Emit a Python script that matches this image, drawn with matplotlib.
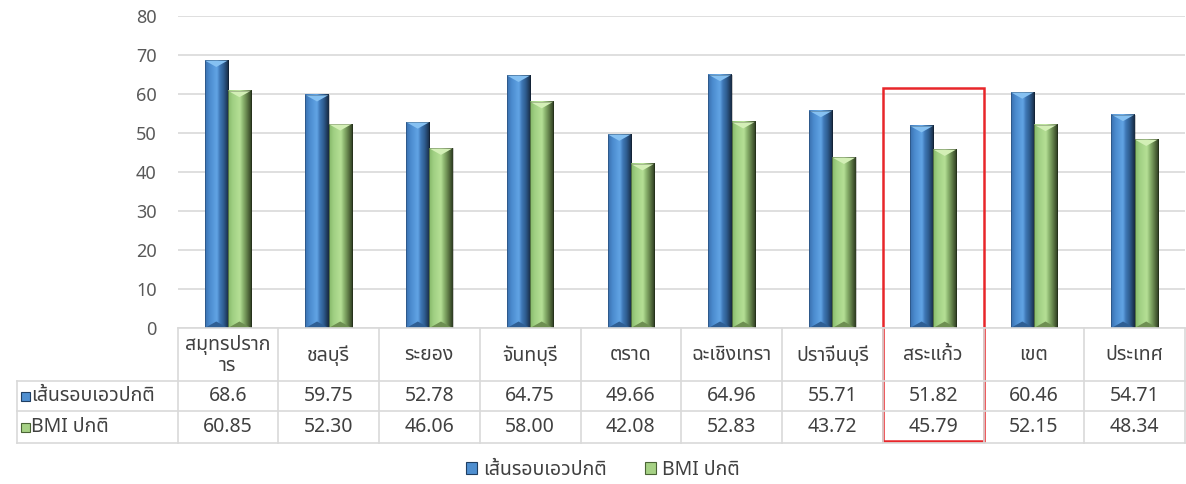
import matplotlib
matplotlib.use("Agg")
import matplotlib.pyplot as plt
import numpy as np
from matplotlib import font_manager
from matplotlib.ft2font import FT2Font
from matplotlib.patches import Polygon, Rectangle, Patch
from matplotlib.colors import LinearSegmentedColormap

# ---- data ----
provinces = ["สมุทรปราก\nาร", "ชลบุรี", "ระยอง", "จันทบุรี", "ตราด",
             "ฉะเชิงเทรา", "ปราจีนบุรี", "สระแก้ว", "เขต", "ประเทศ"]
waist_normal = [68.6, 59.75, 52.78, 64.75, 49.66, 64.96, 55.71, 51.82, 60.46, 54.71]
bmi_normal = [60.85, 52.30, 46.06, 58.00, 42.08, 52.83, 43.72, 45.79, 52.15, 48.34]
series_names = ["เส้นรอบเอวปกติ", "BMI ปกติ"]
highlight_index = 7
y_ticks = [0, 10, 20, 30, 40, 50, 60, 70, 80]


def find_thai_family():
    preferred = ["Noto Sans Thai", "Noto Sans Thai UI", "Leelawadee UI", "Tahoma",
                 "Loma", "Garuda", "Sarabun", "Waree", "Umpush", "Kinnari",
                 "Norasi", "Noto Serif Thai"]
    found = {}
    for fe in font_manager.fontManager.ttflist:
        try:
            cmap = FT2Font(fe.fname).get_charmap()
        except Exception:
            continue
        if 0x0E2A in cmap and 0x0E49 in cmap:
            found.setdefault(fe.name, fe)
    for p in preferred:
        if p in found:
            return p
    if found:
        return sorted(found)[0]
    return None


thai = find_thai_family()
families = ([thai] if thai else []) + ["DejaVu Sans"]
plt.rcParams["font.family"] = families

W, H = 1186, 484
fig = plt.figure(figsize=(W / 100, H / 100), dpi=100)
fig.patch.set_facecolor("white")

ax_left, ax_right, ax_top, ax_bottom = 177.5, 1185, 16, 328
ax = fig.add_axes([ax_left / W, (H - ax_bottom) / H,
                   (ax_right - ax_left) / W, (ax_bottom - ax_top) / H])
ax.set_facecolor("none")

n = len(provinces)
x = np.arange(n)
bw = 0.23
ax.set_xlim(-0.5, n - 0.5)
ax.set_ylim(0, 80)
ax.set_yticks(y_ticks)
ax.set_xticks([])
ax.tick_params(axis="y", length=0, pad=15, labelsize=13, labelcolor="#595959")
ax.yaxis.grid(True, color="#d9d9d9", linewidth=1.2)
ax.set_axisbelow(True)
for s in ax.spines.values():
    s.set_visible(False)

blue_cmap = LinearSegmentedColormap.from_list(
    "blue_bevel",
    [(0.0, "#3a70ae"), (0.18, "#4a8acd"), (0.5, "#62a5e6"),
     (0.62, "#3f78b6"), (0.8, "#2d5a8c"), (1.0, "#17293f")])
green_cmap = LinearSegmentedColormap.from_list(
    "green_bevel",
    [(0.0, "#86b86a"), (0.18, "#9fcf82"), (0.5, "#b6e096"),
     (0.62, "#8fb872"), (0.8, "#627f49"), (1.0, "#2c3a20")])

blue_bars = ax.bar(x - bw / 2, waist_normal, bw, color="#4f8fd0", zorder=2)
green_bars = ax.bar(x + bw / 2, bmi_normal, bw, color="#a6d185", zorder=2)

px_per_unit = (ax_bottom - ax_top) / 80.0
tip = 6.5 / px_per_unit
grad = np.linspace(0, 1, 64).reshape(1, -1)


def bevel(bars, cmap, top_col, bottom_col):
    for r in bars:
        x0, w, h = r.get_x(), r.get_width(), r.get_height()
        ax.imshow(grad, cmap=cmap, extent=(x0, x0 + w, 0, h), aspect="auto",
                  interpolation="bicubic", zorder=3)
        ax.add_patch(Polygon([(x0, h), (x0 + w, h), (x0 + w / 2, h - tip)],
                             closed=True, facecolor=top_col, edgecolor="none", zorder=4))
        ax.add_patch(Polygon([(x0, 0), (x0 + w, 0), (x0 + w / 2, tip)],
                             closed=True, facecolor=bottom_col, edgecolor="none", zorder=4))
        ax.add_patch(Rectangle((x0, 0), w, h, facecolor="none",
                               edgecolor=(0, 0, 0, 0.25), linewidth=0.6, zorder=5))


bevel(blue_bars, blue_cmap, "#86c1f2", "#2f5f94")
bevel(green_bars, green_cmap, "#d3efb6", "#6e8f52")
ax.set_xlim(-0.5, n - 0.5)
ax.set_ylim(0, 80)

# ---- data table under the chart (pixel coordinates) ----
tab = fig.add_axes([0, 0, 1, 1], zorder=5)
tab.set_xlim(0, W)
tab.set_ylim(H, 0)
tab.axis("off")


def col_edge(v):
    return ax.transData.transform((v, 0))[0]


edges = [col_edge(i - 0.5) for i in range(n + 1)]
y_head, y_r1, y_r2, y_end = 328, 381, 411, 443
label_left = 17
line_kw = dict(color="#d9d9d9", linewidth=1.2)

for e in edges:
    tab.plot([e, e], [y_head, y_end], **line_kw)
tab.plot([label_left, label_left], [y_r1, y_end], **line_kw)
tab.plot([edges[0], edges[-1]], [y_head, y_head], **line_kw)
for yy in (y_r1, y_r2, y_end):
    tab.plot([label_left, edges[-1]], [yy, yy], **line_kw)

text_col = "#404040"
fs = 14
for i, name in enumerate(provinces):
    cx = (edges[i] + edges[i + 1]) / 2
    tab.text(cx, (y_head + y_r1) / 2 + 1, name, ha="center", va="center",
             fontsize=fs, color=text_col, linespacing=1.1)
    tab.text(cx, (y_r1 + y_r2) / 2, f"{waist_normal[i]:g}", ha="center",
             va="center", fontsize=fs, color=text_col)
    tab.text(cx, (y_r2 + y_end) / 2, f"{bmi_normal[i]:.2f}", ha="center",
             va="center", fontsize=fs, color=text_col)

key_cols = [("#4f8fd0", "#1f3f63"), ("#a6d185", "#4a6435")]
for (fc, ec), name, (ya, yb) in zip(key_cols, series_names,
                                    [(y_r1, y_r2), (y_r2, y_end)]):
    cy = (ya + yb) / 2
    tab.add_patch(Rectangle((21, cy - 4.5), 9, 9, facecolor=fc, edgecolor=ec,
                            linewidth=0.8))
    tab.text(31, cy, name, ha="left", va="center", fontsize=fs, color=text_col)

# highlighted province
tab.add_patch(Rectangle((edges[highlight_index], 88),
                        edges[highlight_index + 1] - edges[highlight_index],
                        441 - 88, facecolor="none", edgecolor="#e8262a",
                        linewidth=1.8))

# ---- legend ----
handles = [Patch(facecolor=fc, edgecolor=ec, linewidth=0.8) for fc, ec in key_cols]
fig.legend(handles, series_names, loc="center", bbox_to_anchor=(603 / W, 14 / H),
           ncol=2, frameon=False, fontsize=fs, handlelength=0.55,
           handleheight=0.55, handletextpad=0.3, columnspacing=2.0,
           labelcolor=text_col)

fig.savefig("out.png", dpi=100, facecolor="white")
